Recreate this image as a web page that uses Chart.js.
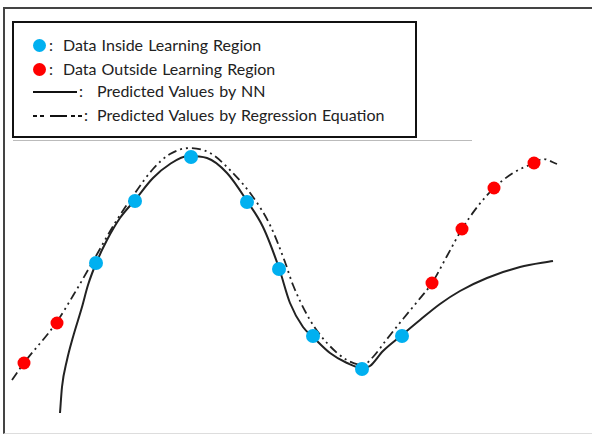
<!DOCTYPE html>
<html>
<head>
<meta charset="utf-8">
<script src="https://cdn.jsdelivr.net/npm/chart.js@4/dist/chart.umd.min.js"></script>
<style>
  html, body { margin: 0; padding: 0; background: #fff; }
  #wrap { position: relative; width: 592px; height: 434px; overflow: hidden; font-family: Lato, "Open Sans", sans-serif; color: #222; }
  #frame { position: absolute; left: 3px; top: 7px; width: 620px; height: 424px; border-left: 2px solid #444; border-top: 2px solid #444; border-bottom: 1px solid #ddd; }
  #c { position: absolute; left: 0; top: 0; }
  #legend { position: absolute; left: 12px; top: 21px; width: 401px; height: 113px; border: 2px solid #111; background: #fff; }
  #faint { position: absolute; left: 13px; top: 140px; width: 459px; height: 0; border-top: 1px solid #bbb; }
  .row { position: absolute; height: 20px; line-height: 20px; font-size: 16px; white-space: nowrap; }
  .dot { position: absolute; width: 13px; height: 13px; border-radius: 50%; }
  .seg { position: absolute; height: 2px; background: #111; }
</style>
</head>
<body>
<div id="wrap">
  <div id="frame"></div>
  <canvas id="c" width="592" height="434"></canvas>
  <div id="legend"></div>
  <div id="faint"></div>
</div>
<script>
// ---- data (x: horizontal position units, y: response value) ----
const insideX  = [96, 135, 191, 247, 279, 313, 362, 402];
const insideY  = [171, 233, 277, 232, 165, 98, 65, 98];
const outsideX = [24, 57, 432, 462, 494, 534];
const outsideY = [71, 111, 151, 205, 246, 271];

const nnX = [60, 62, 67, 73, 82, 88, 97, 107, 120, 135, 153, 170, 188, 207, 227, 247, 263, 279, 290, 303, 313, 330, 347, 362, 370, 383, 402, 420, 440, 460, 487, 520, 553];
const nnY = [21, 47, 74, 97, 127, 149, 173, 194, 216, 234, 256, 270, 278, 276, 261, 233, 207, 166, 131, 107, 97, 81, 71, 66, 68, 83, 99, 114, 130, 143, 156, 167, 173];

const regX = [12, 24, 56, 77, 96, 115, 135, 153, 170, 190, 210, 230, 253, 270, 285, 293, 310, 327, 347, 363, 373, 387, 403, 417, 432, 447, 462, 478, 494, 513, 534, 543, 557];
const regY = [54, 71, 111, 145, 178, 211, 241, 265, 280, 286, 281, 264, 237, 209, 172, 149, 114, 91, 74, 69, 77, 95, 115, 132, 151, 178, 205, 228, 246, 261, 271, 275, 270];

const legendLabels = [
  'Data Inside Learning Region',
  'Data Outside Learning Region',
  'Predicted Values by NN',
  'Predicted Values by Regression Equation'
];

const pts = (xs, ys) => xs.map((x, i) => ({ x: x, y: ys[i] }));

new Chart(document.getElementById('c'), {
  type: 'scatter',
  data: {
    datasets: [
      { label: legendLabels[2], data: pts(nnX, nnY), showLine: true, pointRadius: 0,
        borderColor: '#222', borderWidth: 2, cubicInterpolationMode: 'monotone', fill: false, order: 3 },
      { label: legendLabels[3], data: pts(regX, regY), showLine: true, pointRadius: 0,
        borderColor: '#222', borderWidth: 1.8, borderDash: [9, 4, 2, 4, 2, 4],
        cubicInterpolationMode: 'monotone', fill: false, order: 4 },
      { label: legendLabels[0], data: pts(insideX, insideY), pointRadius: 7, pointHoverRadius: 7,
        backgroundColor: '#00B0F0', borderWidth: 0, order: 1 },
      { label: legendLabels[1], data: pts(outsideX, outsideY), pointRadius: 6.5, pointHoverRadius: 6.5,
        backgroundColor: '#FF0000', borderWidth: 0, order: 2 }
    ]
  },
  options: {
    responsive: false,
    animation: false,
    layout: { padding: 0, autoPadding: false },
    plugins: { legend: { display: false }, tooltip: { enabled: false } },
    scales: {
      x: { type: 'linear', min: 0, max: 592, display: false },
      y: { type: 'linear', min: 0, max: 434, display: false }
    },
    elements: { line: { borderCapStyle: 'butt' } }
  }
});

// ---- legend (HTML text) ----
const lg = document.getElementById('legend');
const rowsY = [12, 36, 58, 82];
function addRow(i, colonX, textX) {
  const c = document.createElement('div');
  c.className = 'row'; c.style.top = rowsY[i] + 'px'; c.style.left = colonX + 'px';
  c.textContent = ':';
  lg.appendChild(c);
  const t = document.createElement('div');
  t.className = 'row'; t.style.top = rowsY[i] + 'px'; t.style.left = textX + 'px';
  t.style.wordSpacing = '1px';
  t.textContent = legendLabels[i];
  lg.appendChild(t);
}
function dot(i, color) {
  const d = document.createElement('div');
  d.className = 'dot'; d.style.background = color;
  d.style.left = (33 - 14) + 'px'; d.style.top = (rowsY[i] + 4) + 'px';
  lg.appendChild(d);
}
function seg(i, x0, x1) {
  const s = document.createElement('div');
  s.className = 'seg'; s.style.left = (x0 - 14) + 'px'; s.style.width = (x1 - x0) + 'px';
  s.style.top = (rowsY[i] + 10) + 'px';
  lg.appendChild(s);
}
dot(0, '#00B0F0'); addRow(0, 49 - 14, 63 - 14);
dot(1, '#FF0000'); addRow(1, 49 - 14, 63 - 14);
seg(2, 33, 77); addRow(2, 79 - 14, 97 - 14);
seg(3, 33, 37); seg(3, 40, 44); seg(3, 50, 67); seg(3, 71, 75); seg(3, 78, 82);
addRow(3, 84 - 14, 97 - 14);
</script>
</body>
</html>
